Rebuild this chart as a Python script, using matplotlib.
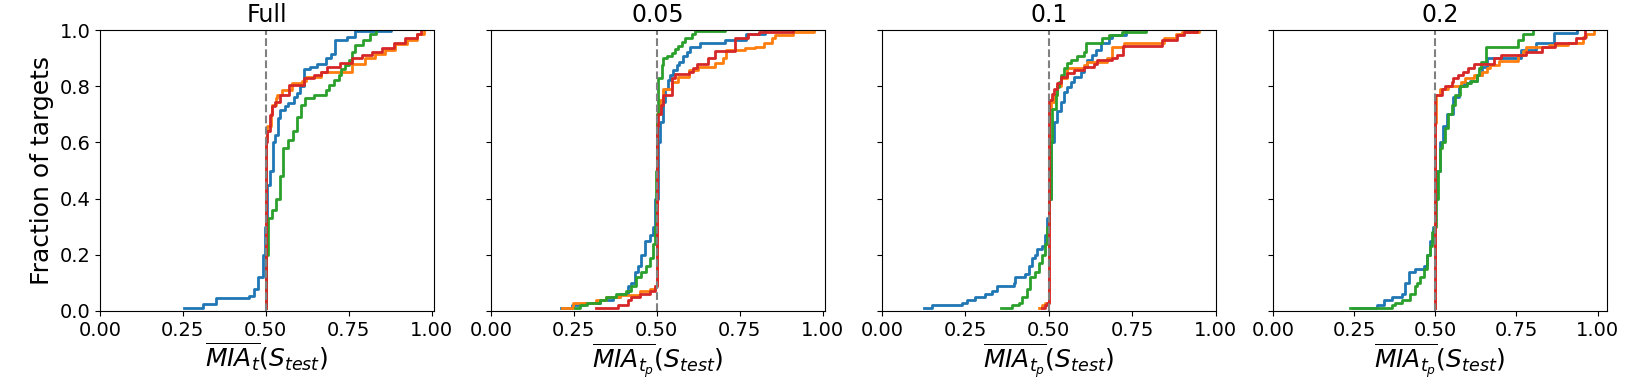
import matplotlib.pyplot as plt

# step curves: x where the level changes, y = fraction of targets after that x
titles = ['Full', '0.05', '0.1', '0.2']
xlabels = [r'$\overline{MIA_t}(S_{test})$', r'$\overline{MIA_{t_p}}(S_{test})$',
           r'$\overline{MIA_{t_p}}(S_{test})$', r'$\overline{MIA_{t_p}}(S_{test})$']
xmax = [1.007, 1.007, 1.001, 1.029]
colors = ['tab:blue', 'tab:orange', 'tab:green', 'tab:red']

# Full
full_blue_x = [0.254, 0.31, 0.35, 0.45, 0.465, 0.475, 0.49, 0.497, 0.502, 0.512, 0.522, 0.529, 0.538, 0.544,
               0.559, 0.568, 0.584, 0.594, 0.604, 0.616, 0.634, 0.655, 0.68, 0.695, 0.71, 0.745, 0.77, 0.876]
full_blue_y = [0.01, 0.025, 0.045, 0.055, 0.08, 0.12, 0.2, 0.3, 0.45, 0.5, 0.6, 0.628, 0.687, 0.716,
               0.728, 0.74, 0.763, 0.775, 0.80, 0.86, 0.87, 0.88, 0.90, 0.913, 0.965, 0.976, 0.996, 1.0]
full_orange_x = [0.5, 0.5, 0.503, 0.515, 0.52, 0.53, 0.535, 0.55, 0.58, 0.61, 0.62, 0.665, 0.76, 0.80,
                 0.83, 0.86, 0.89, 0.925, 0.955, 0.976]
full_orange_y = [0.01, 0.62, 0.66, 0.70, 0.734, 0.757, 0.77, 0.786, 0.81, 0.82, 0.834, 0.852, 0.88, 0.90,
                 0.915, 0.93, 0.95, 0.965, 0.985, 1.0]
full_green_x = [0.5, 0.5, 0.508, 0.518, 0.532, 0.542, 0.552, 0.567, 0.582, 0.595, 0.607, 0.617, 0.645, 0.68,
                0.69, 0.705, 0.72, 0.728, 0.738, 0.75, 0.76, 0.77, 0.794, 0.815, 0.833]
full_green_y = [0.01, 0.2, 0.33, 0.36, 0.4, 0.48, 0.58, 0.61, 0.64, 0.69, 0.734, 0.757, 0.769, 0.786,
                0.804, 0.822, 0.84, 0.86, 0.875, 0.893, 0.923, 0.946, 0.964, 0.986, 1.0]
full_red_x = [0.5, 0.5, 0.505, 0.514, 0.52, 0.529, 0.544, 0.569, 0.615, 0.645, 0.665, 0.685, 0.725, 0.76,
              0.79, 0.821, 0.851, 0.886, 0.921, 0.955, 0.967]
full_red_y = [0.01, 0.6, 0.64, 0.698, 0.728, 0.745, 0.769, 0.805, 0.828, 0.84, 0.852, 0.869, 0.881, 0.899,
              0.911, 0.923, 0.935, 0.953, 0.97, 0.985, 1.0]

# 0.05
p05_blue_x = [0.21, 0.243, 0.278, 0.328, 0.368, 0.388, 0.413, 0.423, 0.433, 0.443, 0.453, 0.463, 0.478, 0.488,
              0.495, 0.502, 0.51, 0.52, 0.525, 0.533, 0.54, 0.55, 0.56, 0.566, 0.58, 0.59, 0.6, 0.63, 0.706,
              0.768, 0.827]
p05_blue_y = [0.01, 0.02, 0.03, 0.04, 0.05, 0.06, 0.09, 0.1, 0.14, 0.16, 0.2, 0.25, 0.27, 0.3,
              0.4, 0.6, 0.674, 0.745, 0.79, 0.822, 0.84, 0.857, 0.875, 0.887, 0.906, 0.923, 0.94, 0.952, 0.964,
              0.985, 1.0]
p05_orange_x = [0.213, 0.248, 0.318, 0.348, 0.388, 0.448, 0.478, 0.493, 0.5, 0.51, 0.52, 0.545, 0.565, 0.596,
                0.625, 0.675, 0.7, 0.71, 0.766, 0.797, 0.822, 0.847, 0.857, 0.912, 0.973]
p05_orange_y = [0.01, 0.03, 0.04, 0.05, 0.057, 0.07, 0.08, 0.09, 0.7, 0.75, 0.79, 0.816, 0.834, 0.857,
                0.87, 0.881, 0.899, 0.93, 0.936, 0.94, 0.952, 0.97, 0.982, 0.994, 1.0]
p05_green_x = [0.253, 0.268, 0.288, 0.328, 0.348, 0.378, 0.408, 0.423, 0.438, 0.453, 0.468, 0.478, 0.488, 0.494,
               0.497, 0.5, 0.505, 0.515, 0.52, 0.53, 0.545, 0.555, 0.565, 0.576, 0.585, 0.606, 0.616, 0.706]
p05_green_y = [0.01, 0.02, 0.03, 0.04, 0.05, 0.06, 0.07, 0.09, 0.12, 0.14, 0.16, 0.19, 0.24, 0.3,
               0.5, 0.7, 0.83, 0.875, 0.9, 0.906, 0.917, 0.932, 0.944, 0.958, 0.973, 0.984, 0.996, 1.0]
p05_red_x = [0.316, 0.383, 0.413, 0.423, 0.448, 0.478, 0.493, 0.5, 0.505, 0.512, 0.52, 0.545, 0.555, 0.596,
             0.61, 0.62, 0.655, 0.675, 0.736, 0.776, 0.807, 0.912]
p05_red_y = [0.01, 0.02, 0.04, 0.05, 0.06, 0.07, 0.09, 0.66, 0.70, 0.734, 0.77, 0.828, 0.843, 0.852,
             0.863, 0.88, 0.9, 0.925, 0.973, 0.985, 0.994, 1.0]

# 0.1
p1_blue_x = [0.125, 0.15, 0.24, 0.255, 0.28, 0.31, 0.33, 0.345, 0.395, 0.4, 0.43, 0.44, 0.45, 0.46, 0.465,
             0.48, 0.49, 0.495, 0.5, 0.505, 0.515, 0.525, 0.535, 0.545, 0.555, 0.565, 0.575, 0.595, 0.605,
             0.615, 0.63, 0.64, 0.655, 0.68, 0.69, 0.73]
p1_blue_y = [0.01, 0.02, 0.03, 0.04, 0.05, 0.06, 0.07, 0.09, 0.1, 0.12, 0.13, 0.16, 0.19, 0.2, 0.22,
             0.23, 0.27, 0.33, 0.4, 0.6, 0.674, 0.71, 0.745, 0.78, 0.798, 0.816, 0.834, 0.852, 0.87,
             0.894, 0.91, 0.928, 0.952, 0.97, 0.982, 1.0]
p1_orange_x = [0.47, 0.48, 0.49, 0.5, 0.505, 0.515, 0.525, 0.535, 0.555, 0.605, 0.615, 0.675, 0.69, 0.725,
               0.845, 0.88, 0.9, 0.95]
p1_orange_y = [0.01, 0.02, 0.03, 0.72, 0.745, 0.77, 0.80, 0.83, 0.863, 0.875, 0.887, 0.9, 0.94, 0.952,
               0.973, 0.985, 0.994, 1.0]
p1_green_x = [0.358, 0.39, 0.41, 0.42, 0.435, 0.445, 0.46, 0.47, 0.48, 0.49, 0.495, 0.5, 0.505, 0.51, 0.52,
              0.525, 0.53, 0.535, 0.545, 0.555, 0.565, 0.585, 0.605, 0.61, 0.66, 0.68, 0.72, 0.79]
p1_green_y = [0.01, 0.02, 0.03, 0.05, 0.08, 0.12, 0.14, 0.17, 0.2, 0.24, 0.3, 0.4, 0.6, 0.72, 0.77,
              0.798, 0.816, 0.84, 0.863, 0.881, 0.894, 0.906, 0.923, 0.952, 0.97, 0.982, 0.994, 1.0]
p1_red_x = [0.48, 0.49, 0.495, 0.5, 0.51, 0.515, 0.525, 0.535, 0.555, 0.575, 0.605, 0.635, 0.645, 0.69,
            0.705, 0.723, 0.84, 0.885, 0.905, 0.945]
p1_red_y = [0.01, 0.02, 0.03, 0.75, 0.772, 0.79, 0.81, 0.834, 0.846, 0.857, 0.869, 0.88, 0.894, 0.902,
            0.911, 0.944, 0.964, 0.982, 0.994, 1.0]

# 0.2
p2_blue_x = [0.248, 0.32, 0.341, 0.367, 0.397, 0.408, 0.418, 0.438, 0.464, 0.474, 0.485, 0.492, 0.5, 0.505,
             0.513, 0.525, 0.536, 0.556, 0.572, 0.587, 0.608, 0.628, 0.644, 0.659, 0.765, 0.81, 0.865, 0.938]
p2_blue_y = [0.01, 0.02, 0.04, 0.05, 0.06, 0.1, 0.14, 0.15, 0.16, 0.2, 0.25, 0.3, 0.4, 0.5,
             0.6, 0.66, 0.7, 0.76, 0.8, 0.81, 0.82, 0.84, 0.87, 0.9, 0.93, 0.953, 0.99, 1.0]
p2_orange_x = [0.5, 0.5, 0.503, 0.515, 0.54, 0.58, 0.59, 0.62, 0.645, 0.66, 0.67, 0.695, 0.755, 0.77,
               0.78, 0.85, 0.91, 0.955, 0.965, 0.99]
p2_orange_y = [0.01, 0.67, 0.77, 0.79, 0.80, 0.815, 0.83, 0.84, 0.852, 0.865, 0.875, 0.89, 0.911, 0.925,
               0.94, 0.945, 0.953, 0.975, 0.985, 1.0]
p2_green_x = [0.236, 0.367, 0.377, 0.397, 0.423, 0.438, 0.444, 0.454, 0.464, 0.474, 0.485, 0.49, 0.497,
              0.502, 0.507, 0.515, 0.52, 0.53, 0.54, 0.55, 0.56, 0.577, 0.597, 0.61, 0.627, 0.635, 0.64,
              0.655, 0.755, 0.77, 0.80]
p2_green_y = [0.01, 0.02, 0.03, 0.04, 0.06, 0.09, 0.1, 0.12, 0.15, 0.2, 0.23, 0.28, 0.3,
              0.4, 0.5, 0.58, 0.6, 0.65, 0.7, 0.734, 0.77, 0.8, 0.81, 0.82, 0.84, 0.863, 0.887,
              0.94, 0.964, 0.986, 1.0]
p2_red_x = [0.5, 0.5, 0.52, 0.53, 0.55, 0.555, 0.57, 0.585, 0.6, 0.62, 0.68, 0.703, 0.78, 0.83, 0.87,
            0.935, 0.96]
p2_red_y = [0.01, 0.77, 0.79, 0.80, 0.815, 0.83, 0.84, 0.85, 0.863, 0.88, 0.9, 0.911, 0.923, 0.94, 0.953,
            0.97, 1.0]

panels = [
    [(full_blue_x, full_blue_y), (full_orange_x, full_orange_y), (full_green_x, full_green_y), (full_red_x, full_red_y)],
    [(p05_blue_x, p05_blue_y), (p05_orange_x, p05_orange_y), (p05_green_x, p05_green_y), (p05_red_x, p05_red_y)],
    [(p1_blue_x, p1_blue_y), (p1_orange_x, p1_orange_y), (p1_green_x, p1_green_y), (p1_red_x, p1_red_y)],
    [(p2_blue_x, p2_blue_y), (p2_orange_x, p2_orange_y), (p2_green_x, p2_green_y), (p2_red_x, p2_red_y)],
]

fig, axes = plt.subplots(1, 4, figsize=(16.25, 3.82), dpi=100, sharey=True)
plt.subplots_adjust(left=100/1625, right=1607/1625, bottom=1-311/382, top=1-30/382, wspace=57/334)

for i, ax in enumerate(axes):
    for (xs, ys), c in zip(panels[i], colors):
        ax.step(xs, ys, where='post', color=c, lw=2)
    ax.axvline(0.5, color='grey', ls='--', lw=1.5)
    ax.set_xlim(0, xmax[i])
    ax.set_ylim(0, 1)
    ax.set_xticks([0, 0.25, 0.5, 0.75, 1.0])
    ax.set_title(titles[i], fontsize=17)
    ax.set_xlabel(xlabels[i], fontsize=18, labelpad=1)
    ax.tick_params(labelsize=14)

axes[0].set_ylabel('Fraction of targets', fontsize=18)

plt.savefig('out.png')
